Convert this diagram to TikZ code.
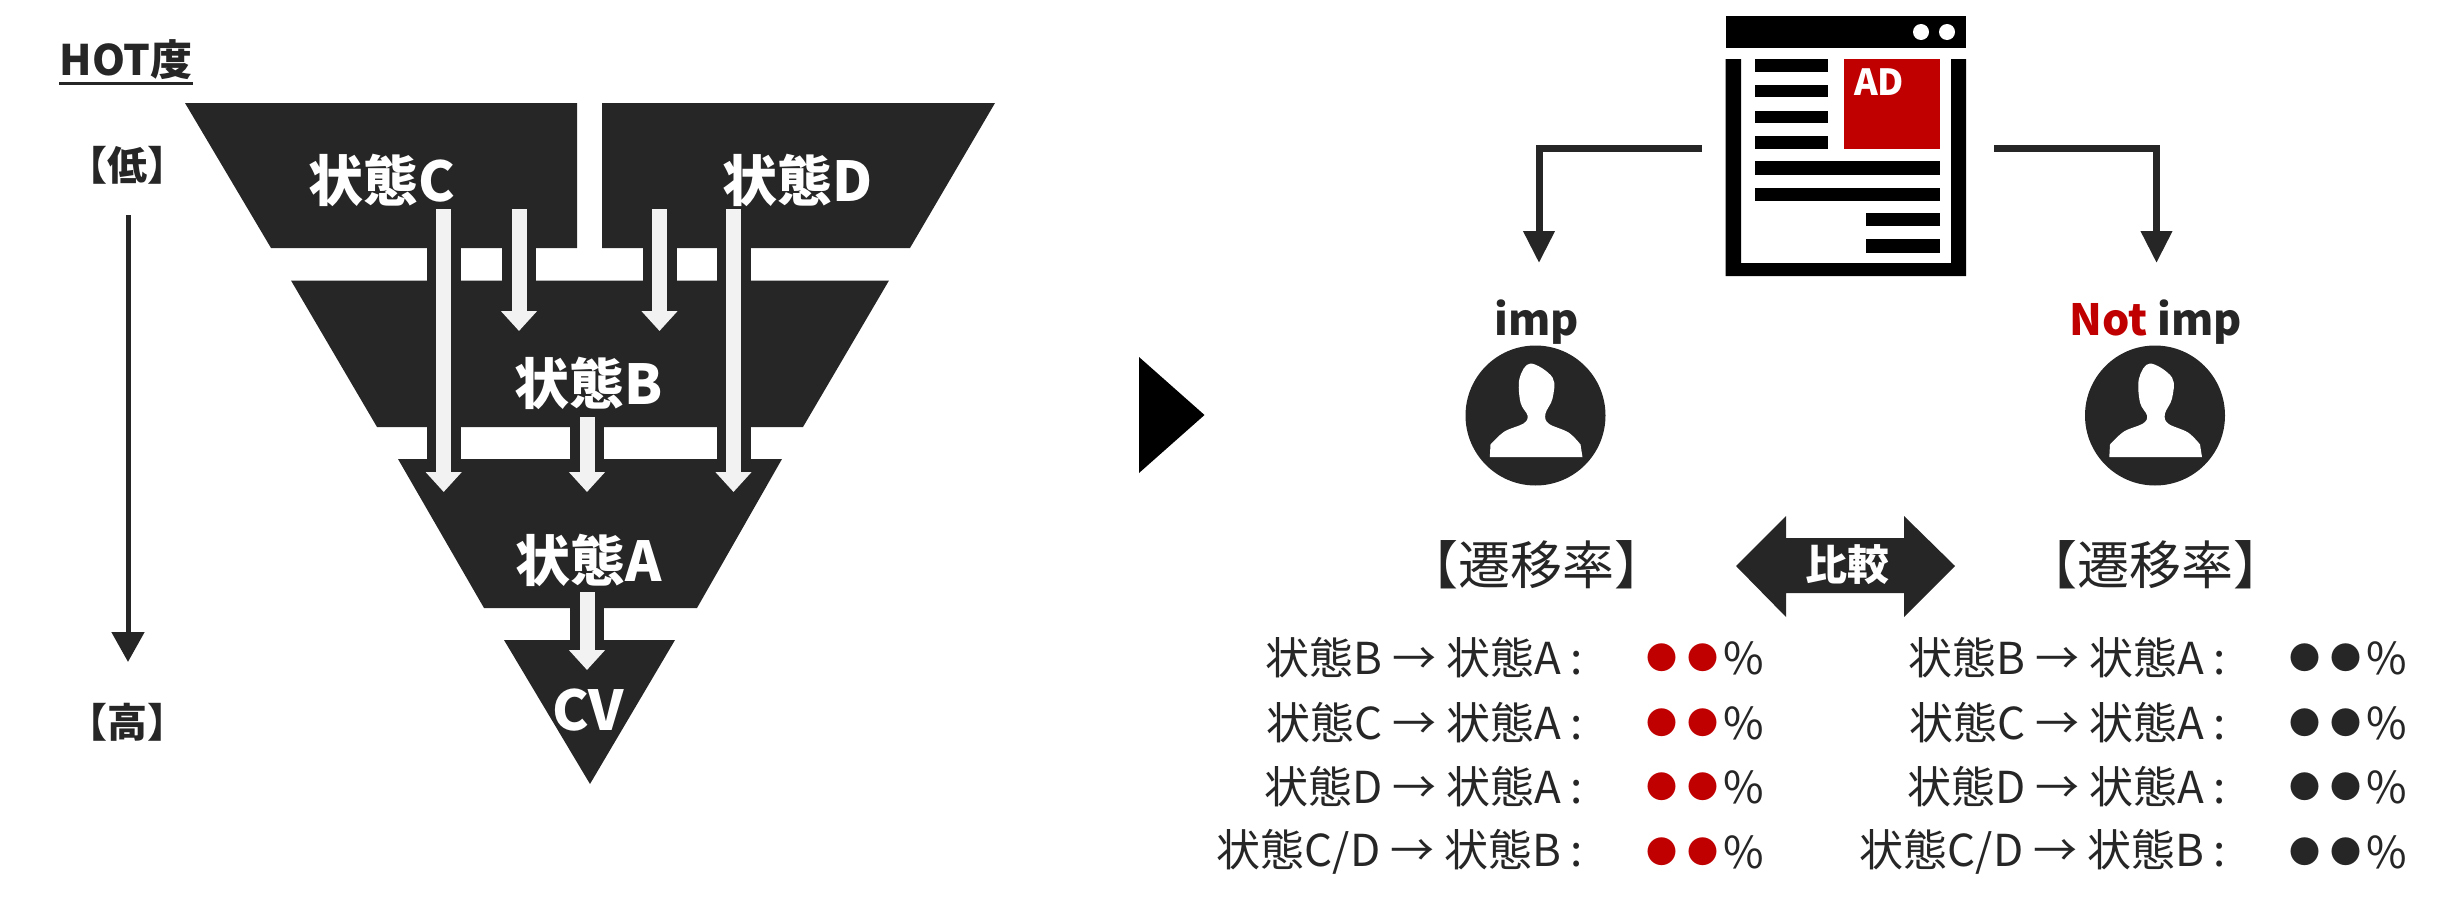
\documentclass[tikz,border=0pt]{standalone}
\usepackage{fontspec}
\setmainfont{Noto Sans CJK JP}
\usetikzlibrary{arrows.meta,calc}
\definecolor{ink}{HTML}{262626}
\definecolor{adred}{HTML}{C00000}
\definecolor{pale}{HTML}{F2F2F2}
\newcommand{\fs}[1]{\fontsize{#1pt}{#1pt}\selectfont}
\newcommand{\twodots}{\raisebox{2.2pt}{\fs{15.5}●\hspace{5pt}●}\hspace{2.5pt}}
\newcommand{\sil}{(-45.7,41.7) -- plot[smooth,tension=.6] coordinates {(-45,29) (-31,16) (-12,8) (-8,0) (-15,-13) (-16,-37) (-5,-52) (17,-38) (17,-17) (10,-2) (13,8) (33,17) (45,29)} -- (47,41.7) -- cycle}
\tikzset{
  block/.style={fill=ink},
  flowback/.style={draw=ink,line width=17pt},
  flowfront/.style={draw=pale,line width=7.5pt,-{Triangle[length=10pt,width=17.5pt]}},
  thinarrow/.style={draw=ink,line width=3.5pt,-{Triangle[length=16pt,width=15pt]}},
  plain/.style={inner sep=0pt,outer sep=0pt,text=ink},
  stagelabel/.style={plain,text=white,font=\fs{27.5}\bfseries},
  ratelabel/.style={plain,font=\fs{22},anchor=east},
  headlabel/.style={plain,font=\fs{26}},
  barb/.style={fill=black},
  avatar/.style={circle,fill=ink,minimum size=70pt,inner sep=0pt}
}
\begin{document}
\begin{tikzpicture}[x=0.5pt,y=-0.5pt]
\useasboundingbox (0,0) rectangle (2443,910);
% funnel
\path[block] (185,103) -- (577,103) -- (577,248) -- (271,248) -- cycle;
\path[block] (602,103) -- (995,103) -- (910,248) -- (602,248) -- cycle;
\path[block] (291,280.5) -- (889,280.5) -- (803,427) -- (377,427) -- cycle;
\path[block] (398,459) -- (782,459) -- (697,608) -- (484,608) -- cycle;
\path[block] (504,640) -- (675,640) -- (590,784) -- cycle;
% flow arrow ends
\coordinate (c1) at (443.7,209); \coordinate (a1) at (443.7,492);
\coordinate (c2) at (519,209);   \coordinate (b2) at (519,331);
\coordinate (d3) at (659.5,209); \coordinate (b3) at (659.5,331);
\coordinate (d4) at (733.5,209); \coordinate (a4) at (733.5,492);
\coordinate (b5) at (587,417);   \coordinate (a5) at (587,492);
\coordinate (a6) at (587,592);   \coordinate (v6) at (587,670);
\foreach \p/\q in {c1/a1,c2/b2,d3/b3,d4/a4,b5/a5,a6/v6}{
  \draw[flowback] (\p) -- ($(\q)+(0,-12)$);
  \draw[flowfront] (\p) -- (\q);
}
\node[stagelabel] (sc) at (382,180) {状態C};
\node[stagelabel] (sd) at (798,180) {状態D};
\node[stagelabel] (sb) at (589,383) {状態B};
\node[stagelabel] (sa) at (589,560) {状態A};
\node[stagelabel] (scv) at (588,710) {CV};
% HOT scale
\node[plain,font=\fs{21}\bfseries] (hot) at (126,60) {HOT度};
\coordinate (ul) at (59,83); \coordinate (ur) at (193,83);
\draw[ink,line width=1.5pt] (ul) -- (ur);
\node[plain,font=\fs{20}\bfseries] (low) at (128,165) {【低】};
\node[plain,font=\fs{20}\bfseries] (high) at (128,722) {【高】};
\draw[draw=ink,line width=2.5pt,-{Triangle[length=15pt,width=16pt]}] (low.south |- 0,215) -- (high.north |- 0,662);
% big triangle
\path[fill=black] (1139,357) -- (1204.5,415) -- (1139,473) -- cycle;
% browser icon
\path[barb] (1725.5,16) rectangle (1966,48);
\path[fill=white] (1921,32) circle (4pt) (1947,32) circle (4pt);
\path[barb] (1725.5,59) -- (1741,59) -- (1741,263) -- (1951,263) -- (1951,59) -- (1966,59) -- (1966,276) -- (1725.5,276) -- cycle;
\foreach \a/\b in {59/72,85/97,111/123,136/149}{\path[barb] (1755,\a) rectangle (1828,\b);}
\foreach \a/\b in {161/175,188/201}{\path[barb] (1755,\a) rectangle (1940,\b);}
\foreach \a/\b in {213/226,239/253}{\path[barb] (1866,\a) rectangle (1940,\b);}
\path[fill=adred] (1844,59) rectangle (1940,149);
\node[plain,text=white,font=\fs{18}\bfseries] (ad) at (1879,82) {AD};
% branch arrows
\coordinate (bl) at (1701.5,148); \coordinate (br) at (1994,148);
\coordinate (tl) at (1539,263);   \coordinate (tr) at (2156.5,263);
\draw[thinarrow] (bl) -| (tl);
\draw[thinarrow] (br) -| (tr);
% people
\node[plain,anchor=base,font=\fs{21.5}\bfseries] (imp) at (1537,335) {imp};
\node[plain,anchor=base,font=\fs{21.5}\bfseries] (notimp) at (2156,335) {\textcolor{adred}{Not} imp};
\node[avatar] (p1) at (1535.5,415.5) {};
\node[avatar] (p2) at (2155,415.5) {};
\path[fill=white,shift={(p1)}] \sil;
\path[fill=white,shift={(p2)}] \sil;
% compare
\node[headlabel] (r1) at (1536,565) {【遷移率】};
\node[headlabel] (r2) at (2155,565) {【遷移率】};
\path[fill=ink] (1736,566) -- (1786,516) -- (1786,538) -- (1904,538) -- (1904,516) -- (1955,566) -- (1904,617) -- (1904,593) -- (1786,593) -- (1786,617) -- cycle;
\node[plain,text=white,font=\fs{21}\bfseries] (cmp) at (1847,565) {比較};
% rates
\node[ratelabel] (l1) at (1583,658) {状態B → 状態A :};
\node[ratelabel] (l2) at (1583,723) {状態C → 状態A :};
\node[ratelabel] (l3) at (1583,787) {状態D → 状態A :};
\node[ratelabel] (l4) at (1583,852) {状態C/D → 状態B :};
\node[ratelabel] (v1) at (1764,658) {\textcolor{adred}{\twodots}\%};
\node[ratelabel] (v2) at (1764,723) {\textcolor{adred}{\twodots}\%};
\node[ratelabel] (v3) at (1764,787) {\textcolor{adred}{\twodots}\%};
\node[ratelabel] (v4) at (1764,852) {\textcolor{adred}{\twodots}\%};
\node[ratelabel] (m1) at (2226,658) {状態B → 状態A :};
\node[ratelabel] (m2) at (2226,723) {状態C → 状態A :};
\node[ratelabel] (m3) at (2226,787) {状態D → 状態A :};
\node[ratelabel] (m4) at (2226,852) {状態C/D → 状態B :};
\node[ratelabel] (w1) at (2407,658) {\twodots\%};
\node[ratelabel] (w2) at (2407,723) {\twodots\%};
\node[ratelabel] (w3) at (2407,787) {\twodots\%};
\node[ratelabel] (w4) at (2407,852) {\twodots\%};
\end{tikzpicture}
\end{document}
